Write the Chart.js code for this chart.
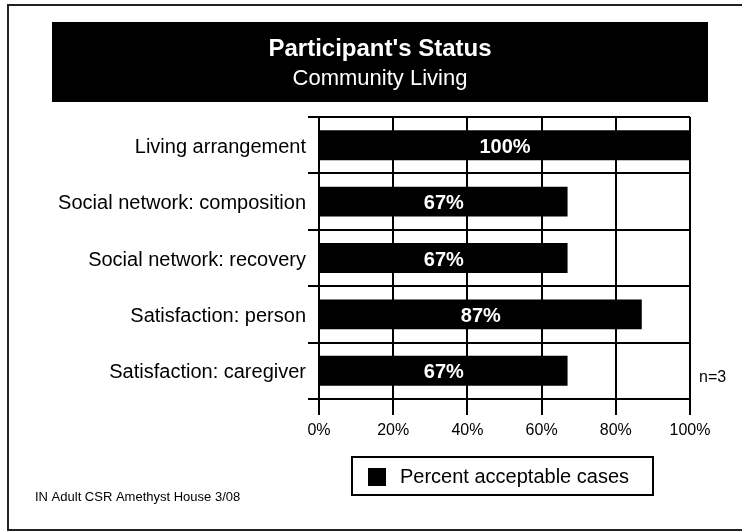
<!DOCTYPE html>
<html>
<head>
<meta charset="utf-8">
<script src="https://cdn.jsdelivr.net/npm/chart.js@4"></script>
<style>
  html, body { margin: 0; padding: 0; background: #fff; }
  #wrap { width: 742px; height: 532px; }
</style>
</head>
<body>
<div id="wrap"><canvas id="grafico"></canvas></div>
<script>
// Dados do gráfico
var categorias = ['Living arrangement', 'Social network: composition', 'Social network: recovery', 'Satisfaction: person', 'Satisfaction: caregiver'];
var aceitaveis = [100, 67, 67, 87, 67];
var marcasX = [0, 20, 40, 60, 80, 100];
var titulo = "Participant's Status";
var subtitulo = 'Community Living';
var legendaTxt = 'Percent acceptable cases';
var rodape = 'IN Adult CSR Amethyst House 3/08';
var amostra = 'n=3';

var fonte = 'Arial, "Liberation Sans", sans-serif';

// Moldura, título, legenda e textos soltos
var moldura = {
    id: 'moldura',
    beforeDraw: function(chart){
        var ctx = chart.ctx;
        ctx.save();
        ctx.fillStyle = '#fff';
        ctx.fillRect(0, 0, chart.width, chart.height);

        ctx.strokeStyle = '#222';
        ctx.lineWidth = 2;
        ctx.strokeRect(8, 5, 760, 525);

        // caixa preta do título
        ctx.fillStyle = '#000';
        ctx.fillRect(52, 22, 656, 80);
        ctx.fillStyle = '#fff';
        ctx.textAlign = 'center';
        ctx.textBaseline = 'alphabetic';
        ctx.font = 'bold 24px ' + fonte;
        ctx.fillText(titulo, 380, 56);
        ctx.font = '22px ' + fonte;
        ctx.fillText(subtitulo, 380, 85);

        // legenda
        ctx.strokeStyle = '#000';
        ctx.lineWidth = 2;
        ctx.strokeRect(352, 457, 301, 38);
        ctx.fillStyle = '#000';
        ctx.fillRect(368, 468, 18, 18);
        ctx.textAlign = 'left';
        ctx.textBaseline = 'middle';
        ctx.font = '20px ' + fonte;
        ctx.fillText(legendaTxt, 400, 477);

        ctx.font = '13px ' + fonte;
        ctx.fillText(rodape, 35, 497);

        ctx.font = '16px ' + fonte;
        ctx.fillText(amostra, 699, 378);
        ctx.restore();
    },
    afterDatasetsDraw: function(chart){
        var ctx = chart.ctx;
        var meta = chart.getDatasetMeta(0);
        ctx.save();
        ctx.fillStyle = '#fff';
        ctx.font = 'bold 20px ' + fonte;
        ctx.textAlign = 'center';
        ctx.textBaseline = 'middle';
        meta.data.forEach(function(barra, i){
            var meio = (barra.x + barra.base) / 2;
            ctx.fillText(aceitaveis[i] + '%', meio, barra.y + 2);
        });
        ctx.restore();
    }
};

var config = {
    type: 'bar',
    data: {
        labels: categorias,
        datasets: [{
            label: legendaTxt,
            data: aceitaveis,
            backgroundColor: '#000',
            borderWidth: 0,
            barPercentage: 0.53,
            categoryPercentage: 1.0
        }]
    },
    options: {
        indexAxis: 'y',
        responsive: true,
        maintainAspectRatio: false,
        animation: false,
        layout: { padding: { top: 117, right: 52, bottom: 88, left: 0 } },
        plugins: {
            legend: { display: false },
            tooltip: { enabled: false }
        },
        scales: {
            x: {
                min: 0,
                max: 100,
                afterBuildTicks: function(scale){
                    scale.ticks = marcasX.map(function(v){ return { value: v }; });
                },
                afterFit: function(scale){ scale.height = 45; },
                ticks: {
                    color: '#000',
                    padding: 6,
                    font: { family: fonte, size: 16 },
                    callback: function(v){ return v + '%'; }
                },
                grid: { color: '#000', lineWidth: 2, tickLength: 16 },
                border: { display: true, color: '#000', width: 2 }
            },
            y: {
                afterFit: function(scale){ scale.width = 319; },
                ticks: {
                    color: '#000',
                    padding: 2,
                    labelOffset: 2,
                    font: { family: fonte, size: 20 }
                },
                grid: { color: '#000', lineWidth: 2, tickLength: 11, offset: true },
                border: { display: true, color: '#000', width: 2 }
            }
        }
    },
    plugins: [moldura]
};

var grafico = new Chart(document.getElementById('grafico'), config);
</script>
</body>
</html>
